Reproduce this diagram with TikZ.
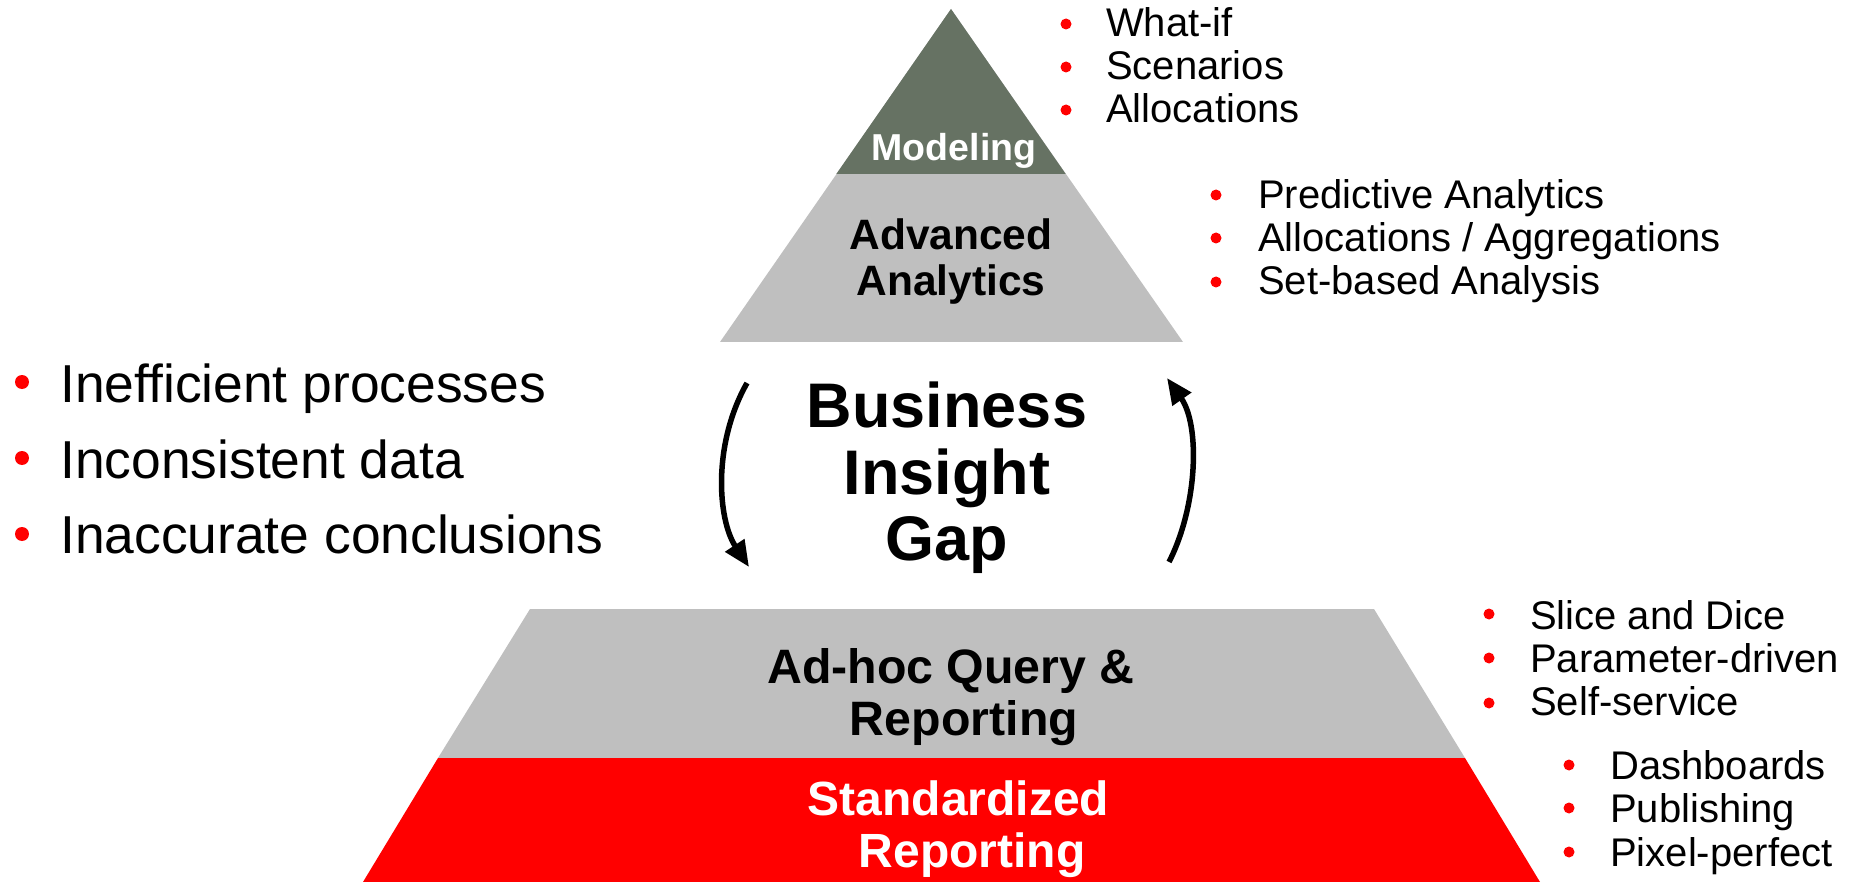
\documentclass[tikz,border=0pt]{standalone}
\usepackage{fontspec}
\setmainfont{Liberation Sans}
\usetikzlibrary{arrows.meta}
\definecolor{modelGreen}{RGB}{102,114,99}
\definecolor{tierGray}{RGB}{191,191,191}
\definecolor{tierRed}{RGB}{255,0,0}
\begin{document}
\begin{tikzpicture}[x=1pt,y=-1pt,
  lbl/.style={inner sep=0pt, anchor=base, font=\bfseries\fontsize{#1}{#1}\selectfont},
  itemtext/.style={inner sep=0pt, anchor=base west, font=\fontsize{40}{40}\selectfont},
  bigitem/.style={inner sep=0pt, anchor=base west, font=\fontsize{53.4}{53.4}\selectfont},
  bul/.style={fill=tierRed},
  gaparrow/.style={line width=5.5pt, -{Triangle[length=26pt,width=22pt]}}]
\useasboundingbox (0,0) rectangle (1860,882);

% top pyramid
\fill[tierGray] (951,9) -- (720,342) -- (1183,342) -- cycle;
\fill[modelGreen] (951,9) -- (836.3,174) -- (1065.7,174) -- cycle;
% bottom trapezoid
\fill[tierGray] (530,609) -- (1374,609) -- (1465,758) -- (438,758) -- cycle;
\fill[tierRed] (438,758) -- (1465,758) -- (1540,882) -- (363,882) -- cycle;

% tier labels
\node[lbl=37.5, text=white] (model) at (954,161) {Modeling};
\node[lbl=42.5] (adv1) at (951,250) {Advanced};
\node[lbl=42.5] (adv2) at (951,296) {Analytics};
\node[lbl=48.3] (adhoc1) at (951,683) {Ad-hoc Query \&};
\node[lbl=48.3] (adhoc2) at (964,735) {Reporting};
\node[lbl=48, text=white] (std1) at (958.5,815) {Standardized};
\node[lbl=48, text=white] (std2) at (972,867) {Reporting};

% gap
\node[lbl=63] (gap1) at (947,427) {Business};
\node[lbl=63] (gap2) at (947,494) {Insight};
\node[lbl=63] (gap3) at (947,560) {Gap};

\coordinate (la1) at (747,383);
\coordinate (la2) at (749,567);
\coordinate (ra1) at (1169,562);
\coordinate (ra2) at (1167,378);
\draw[gaparrow] (la1) .. controls (712,445) and (718,520) .. (la2);
\draw[gaparrow] (ra1) .. controls (1198,505) and (1200,425) .. (ra2);

% top right list
\fill[bul] (1066,24) circle (5.5);
\fill[bul] (1066,67) circle (5.5);
\fill[bul] (1066,110) circle (5.5);
\node[itemtext] (m1) at (1106,37) {What-if};
\node[itemtext] (m2) at (1106,80) {Scenarios};
\node[itemtext] (m3) at (1106,123) {Allocations};

% middle right list
\fill[bul] (1216,195) circle (5.5);
\fill[bul] (1216,238) circle (5.5);
\fill[bul] (1216,282) circle (5.5);
\node[itemtext] (a1) at (1258,209) {Predictive Analytics};
\node[itemtext] (a2) at (1258,252) {Allocations / Aggregations};
\node[itemtext] (a3) at (1258,295) {Set-based Analysis};

% bottom right lists
\fill[bul] (1489,614) circle (5.5);
\fill[bul] (1489,658) circle (5.5);
\fill[bul] (1489,703) circle (5.5);
\node[itemtext] (q1) at (1530,629) {Slice and Dice};
\node[itemtext] (q2) at (1530,672) {Parameter-driven};
\node[itemtext] (q3) at (1530,715) {Self-service};

\fill[bul] (1569,765) circle (5.5);
\fill[bul] (1569,808) circle (5.5);
\fill[bul] (1569,852) circle (5.5);
\node[itemtext] (s1) at (1610,779) {Dashboards};
\node[itemtext] (s2) at (1610,822) {Publishing};
\node[itemtext] (s3) at (1610,866) {Pixel-perfect};

% left list
\fill[bul] (22,382) circle (7);
\fill[bul] (22,458) circle (7);
\fill[bul] (22,534) circle (7);
\node[bigitem] (p1) at (60,402) {Inefficient processes};
\node[bigitem] (p2) at (60,478) {Inconsistent data};
\node[bigitem] (p3) at (60,553) {Inaccurate conclusions};
\end{tikzpicture}
\end{document}
